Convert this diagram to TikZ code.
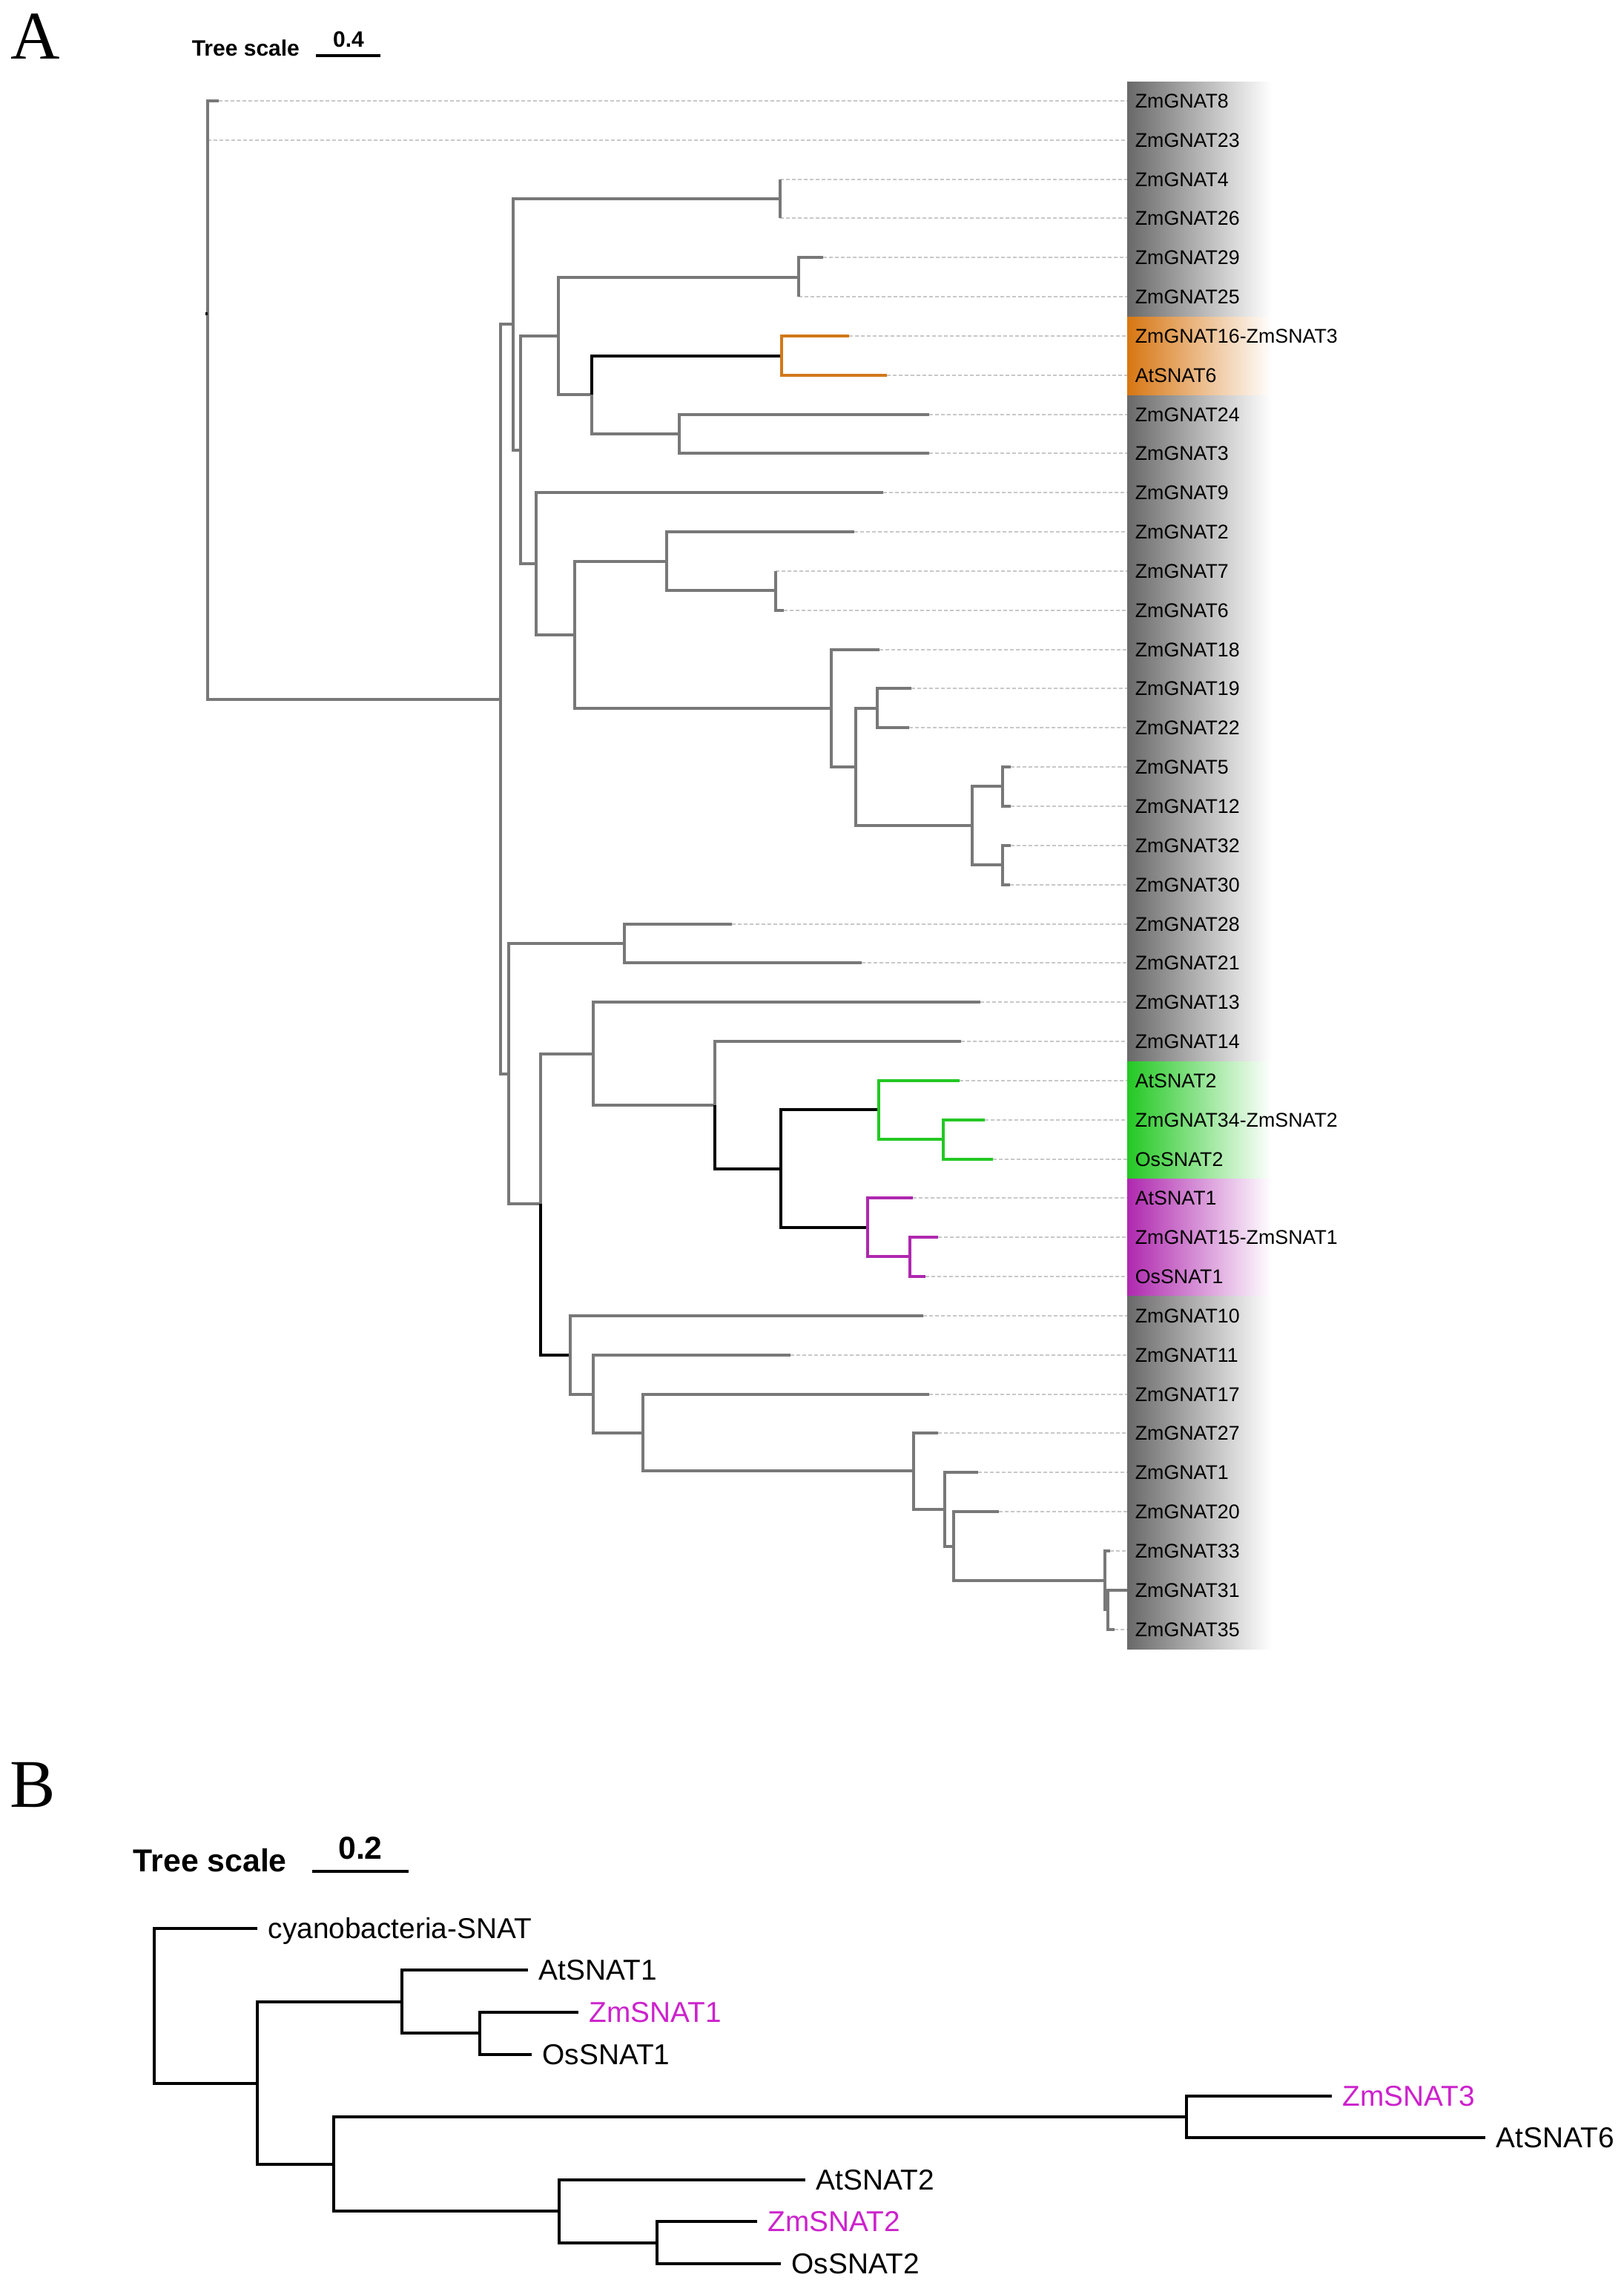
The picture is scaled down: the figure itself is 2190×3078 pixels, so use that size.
\documentclass[tikz,border=0pt]{standalone}
\usepackage{fontspec}
\setmainfont{Liberation Sans}
\newfontfamily\panelfont{Liberation Serif}
\definecolor{brgray}{RGB}{120,120,120}
\definecolor{leadgray}{RGB}{200,200,200}
\definecolor{stripgray}{RGB}{105,105,105}
\definecolor{orangeA}{RGB}{210,120,25}
\definecolor{orangeS}{RGB}{215,118,18}
\definecolor{greenA}{RGB}{35,200,35}
\definecolor{purpleA}{RGB}{175,40,175}
\definecolor{magentaB}{RGB}{204,34,204}

\begin{document}
\begin{tikzpicture}[x=0.25pt, y=-0.25pt,
  br/.style={draw=brgray, line width=0.8pt},
  brk/.style={draw=black, line width=0.8pt},
  bro/.style={draw=orangeA, line width=0.8pt},
  brg/.style={draw=greenA, line width=0.8pt},
  brp/.style={draw=purpleA, line width=0.8pt},
  lead/.style={draw=leadgray, line width=0.45pt, dash pattern=on 1.2pt off 0.8pt},
  leafA/.style={anchor=west, inner xsep=2.5pt, inner ysep=0pt, font=\fontsize{6.7}{8}\selectfont, text height=4.8pt, text depth=0pt},
  leafB/.style={anchor=west, inner xsep=3.5pt, inner ysep=0pt, font=\fontsize{9.7}{11}\selectfont, text height=6.9pt, text depth=0pt},
  brB/.style={draw=black, line width=1.1pt},
  panel/.style={anchor=base west, inner sep=0pt, font=\panelfont\fontsize{23}{26}\selectfont},
  scaleA/.style={inner sep=0pt, font=\bfseries\fontsize{7.5}{9}\selectfont},
  scaleB/.style={inner sep=0pt, font=\bfseries\fontsize{10.7}{12}\selectfont}]
\useasboundingbox (0,0) rectangle (2190,3078);

% panel A
\node[panel] (pA) at (14,79) {A};
\node[scaleA, anchor=base west] (tsA) at (258,75) {Tree scale};
\coordinate (sa1) at (426,75);
\coordinate (sa2) at (513,75);
\draw[line width=1.1pt] (sa1) -- (sa2);
\node[scaleA, anchor=base] (svA) at (470,63) {0.4};

\shade[left color=stripgray, right color=white] (1520,110) rectangle (1715,427);
\shade[left color=orangeS, right color=white] (1520,427) rectangle (1715,533);
\shade[left color=stripgray, right color=white] (1520,533) rectangle (1715,1431);
\shade[left color=greenA, right color=white] (1520,1431) rectangle (1715,1589);
\shade[left color=purpleA, right color=white] (1520,1589) rectangle (1715,1747);
\shade[left color=stripgray, right color=white] (1520,1747) rectangle (1715,2223);

\coordinate (t0) at (295,136);   \node[leafA] (l0) at (1520,136) {ZmGNAT8};
\coordinate (t1) at (280,189);   \node[leafA] (l1) at (1520,189) {ZmGNAT23};
\coordinate (t2) at (1052,242);  \node[leafA] (l2) at (1520,242) {ZmGNAT4};
\coordinate (t3) at (1052,294);  \node[leafA] (l3) at (1520,294) {ZmGNAT26};
\coordinate (t4) at (1110,347);  \node[leafA] (l4) at (1520,347) {ZmGNAT29};
\coordinate (t5) at (1077,400);  \node[leafA] (l5) at (1520,400) {ZmGNAT25};
\coordinate (t6) at (1145,453);  \node[leafA] (l6) at (1520,453) {ZmGNAT16-ZmSNAT3};
\coordinate (t7) at (1196,506);  \node[leafA] (l7) at (1520,506) {AtSNAT6};
\coordinate (t8) at (1253,559);  \node[leafA] (l8) at (1520,559) {ZmGNAT24};
\coordinate (t9) at (1253,611);  \node[leafA] (l9) at (1520,611) {ZmGNAT3};
\coordinate (t10) at (1191,664); \node[leafA] (l10) at (1520,664) {ZmGNAT9};
\coordinate (t11) at (1152,717); \node[leafA] (l11) at (1520,717) {ZmGNAT2};
\coordinate (t12) at (1046,770); \node[leafA] (l12) at (1520,770) {ZmGNAT7};
\coordinate (t13) at (1057,823); \node[leafA] (l13) at (1520,823) {ZmGNAT6};
\coordinate (t14) at (1186,876); \node[leafA] (l14) at (1520,876) {ZmGNAT18};
\coordinate (t15) at (1229,928); \node[leafA] (l15) at (1520,928) {ZmGNAT19};
\coordinate (t16) at (1226,981); \node[leafA] (l16) at (1520,981) {ZmGNAT22};
\coordinate (t17) at (1363,1034); \node[leafA] (l17) at (1520,1034) {ZmGNAT5};
\coordinate (t18) at (1363,1087); \node[leafA] (l18) at (1520,1087) {ZmGNAT12};
\coordinate (t19) at (1363,1140); \node[leafA] (l19) at (1520,1140) {ZmGNAT32};
\coordinate (t20) at (1362,1193); \node[leafA] (l20) at (1520,1193) {ZmGNAT30};
\coordinate (t21) at (987,1246);  \node[leafA] (l21) at (1520,1246) {ZmGNAT28};
\coordinate (t22) at (1162,1298); \node[leafA] (l22) at (1520,1298) {ZmGNAT21};
\coordinate (t23) at (1322,1351); \node[leafA] (l23) at (1520,1351) {ZmGNAT13};
\coordinate (t24) at (1296,1404); \node[leafA] (l24) at (1520,1404) {ZmGNAT14};
\coordinate (t25) at (1294,1457); \node[leafA] (l25) at (1520,1457) {AtSNAT2};
\coordinate (t26) at (1328,1510); \node[leafA] (l26) at (1520,1510) {ZmGNAT34-ZmSNAT2};
\coordinate (t27) at (1339,1563); \node[leafA] (l27) at (1520,1563) {OsSNAT2};
\coordinate (t28) at (1231,1615); \node[leafA] (l28) at (1520,1615) {AtSNAT1};
\coordinate (t29) at (1265,1668); \node[leafA] (l29) at (1520,1668) {ZmGNAT15-ZmSNAT1};
\coordinate (t30) at (1248,1721); \node[leafA] (l30) at (1520,1721) {OsSNAT1};
\coordinate (t31) at (1245,1774); \node[leafA] (l31) at (1520,1774) {ZmGNAT10};
\coordinate (t32) at (1066,1827); \node[leafA] (l32) at (1520,1827) {ZmGNAT11};
\coordinate (t33) at (1253,1880); \node[leafA] (l33) at (1520,1880) {ZmGNAT17};
\coordinate (t34) at (1265,1932); \node[leafA] (l34) at (1520,1932) {ZmGNAT27};
\coordinate (t35) at (1319,1985); \node[leafA] (l35) at (1520,1985) {ZmGNAT1};
\coordinate (t36) at (1347,2038); \node[leafA] (l36) at (1520,2038) {ZmGNAT20};
\coordinate (t37) at (1497,2091); \node[leafA] (l37) at (1520,2091) {ZmGNAT33};
\coordinate (t38) at (1520,2144); \node[leafA] (l38) at (1520,2144) {ZmGNAT31};
\coordinate (t39) at (1503,2197); \node[leafA] (l39) at (1520,2197) {ZmGNAT35};

\coordinate (rt) at (280,423);
\coordinate (n1) at (675,943);
\coordinate (p1) at (692,437);
\coordinate (p2) at (1052,268);
\coordinate (p3) at (702,607);
\coordinate (p4) at (753,453);
\coordinate (p5) at (1077,374);
\coordinate (p6) at (798,532);
\coordinate (p7) at (1054,480);
\coordinate (p8) at (916,585);
\coordinate (p9) at (723,760);
\coordinate (p10) at (775,856);
\coordinate (p11) at (899,757);
\coordinate (p12) at (1046,796);
\coordinate (p13) at (1121,955);
\coordinate (p14) at (1154,1034);
\coordinate (p15) at (1183,955);
\coordinate (p16) at (1311,1113);
\coordinate (p17) at (1352,1060);
\coordinate (p18) at (1352,1166);
\coordinate (n2) at (686,1448);
\coordinate (m1) at (842,1272);
\coordinate (m2) at (729,1623);
\coordinate (m3) at (800,1421);
\coordinate (m4) at (964,1490);
\coordinate (m5) at (1053,1576);
\coordinate (m6) at (1185,1496);
\coordinate (m7) at (1272,1536);
\coordinate (m8) at (1170,1655);
\coordinate (m9) at (1227,1694);
\coordinate (m10) at (769,1827);
\coordinate (m11) at (800,1880);
\coordinate (m12) at (867,1932);
\coordinate (m13) at (1232,1983);
\coordinate (m14) at (1274,2035);
\coordinate (m15) at (1286,2085);
\coordinate (m16) at (1490,2131);
\coordinate (m17) at (1494,2170);

\draw[lead] (t0) -- (l0);
\draw[lead] (t1) -- (l1);
\draw[lead] (t2) -- (l2);
\draw[lead] (t3) -- (l3);
\draw[lead] (t4) -- (l4);
\draw[lead] (t5) -- (l5);
\draw[lead] (t6) -- (l6);
\draw[lead] (t7) -- (l7);
\draw[lead] (t8) -- (l8);
\draw[lead] (t9) -- (l9);
\draw[lead] (t10) -- (l10);
\draw[lead] (t11) -- (l11);
\draw[lead] (t12) -- (l12);
\draw[lead] (t13) -- (l13);
\draw[lead] (t14) -- (l14);
\draw[lead] (t15) -- (l15);
\draw[lead] (t16) -- (l16);
\draw[lead] (t17) -- (l17);
\draw[lead] (t18) -- (l18);
\draw[lead] (t19) -- (l19);
\draw[lead] (t20) -- (l20);
\draw[lead] (t21) -- (l21);
\draw[lead] (t22) -- (l22);
\draw[lead] (t23) -- (l23);
\draw[lead] (t24) -- (l24);
\draw[lead] (t25) -- (l25);
\draw[lead] (t26) -- (l26);
\draw[lead] (t27) -- (l27);
\draw[lead] (t28) -- (l28);
\draw[lead] (t29) -- (l29);
\draw[lead] (t30) -- (l30);
\draw[lead] (t31) -- (l31);
\draw[lead] (t32) -- (l32);
\draw[lead] (t33) -- (l33);
\draw[lead] (t34) -- (l34);
\draw[lead] (t35) -- (l35);
\draw[lead] (t36) -- (l36);
\draw[lead] (t37) -- (l37);
\draw[lead] (t39) -- (l39);

\draw[br] (rt) |- (t0);
\draw[br] (rt) |- (t1);
\draw[br] (rt) |- (n1);
\draw[brk] (rt) -- ++(-3,0);
\draw[br] (n1) |- (p1);
\draw[br] (n1) |- (n2);
\draw[br] (p1) |- (p2);
\draw[br] (p1) |- (p3);
\draw[br] (p2) |- (t2);
\draw[br] (p2) |- (t3);
\draw[br] (p3) |- (p4);
\draw[br] (p3) |- (p9);
\draw[br] (p4) |- (p5);
\draw[br] (p4) |- (p6);
\draw[br] (p5) |- (t4);
\draw[br] (p5) |- (t5);
\draw[brk] (p6) |- (p7);
\draw[br] (p6) |- (p8);
\draw[bro] (p7) |- (t6);
\draw[bro] (p7) |- (t7);
\draw[br] (p8) |- (t8);
\draw[br] (p8) |- (t9);
\draw[br] (p9) |- (t10);
\draw[br] (p9) |- (p10);
\draw[br] (p10) |- (p11);
\draw[br] (p10) |- (p13);
\draw[br] (p11) |- (t11);
\draw[br] (p11) |- (p12);
\draw[br] (p12) |- (t12);
\draw[br] (p12) |- (t13);
\draw[br] (p13) |- (t14);
\draw[br] (p13) |- (p14);
\draw[br] (p14) |- (p15);
\draw[br] (p14) |- (p16);
\draw[br] (p15) |- (t15);
\draw[br] (p15) |- (t16);
\draw[br] (p16) |- (p17);
\draw[br] (p16) |- (p18);
\draw[br] (p17) |- (t17);
\draw[br] (p17) |- (t18);
\draw[br] (p18) |- (t19);
\draw[br] (p18) |- (t20);
\draw[br] (n2) |- (m1);
\draw[br] (n2) |- (m2);
\draw[br] (m1) |- (t21);
\draw[br] (m1) |- (t22);
\draw[br] (m2) |- (m3);
\draw[brk] (m2) |- (m10);
\draw[br] (m3) |- (t23);
\draw[br] (m3) |- (m4);
\draw[br] (m4) |- (t24);
\draw[brk] (m4) |- (m5);
\draw[brk] (m5) |- (m6);
\draw[brk] (m5) |- (m8);
\draw[brg] (m6) |- (t25);
\draw[brg] (m6) |- (m7);
\draw[brg] (m7) |- (t26);
\draw[brg] (m7) |- (t27);
\draw[brp] (m8) |- (t28);
\draw[brp] (m8) |- (m9);
\draw[brp] (m9) |- (t29);
\draw[brp] (m9) |- (t30);
\draw[br] (m10) |- (t31);
\draw[br] (m10) |- (m11);
\draw[br] (m11) |- (t32);
\draw[br] (m11) |- (m12);
\draw[br] (m12) |- (t33);
\draw[br] (m12) |- (m13);
\draw[br] (m13) |- (t34);
\draw[br] (m13) |- (m14);
\draw[br] (m14) |- (t35);
\draw[br] (m14) |- (m15);
\draw[br] (m15) |- (t36);
\draw[br] (m15) |- (m16);
\draw[br] (m16) |- (t37);
\draw[br] (m16) |- (m17);
\draw[br] (m17) |- (t38);
\draw[br] (m17) |- (t39);

% panel B
\node[panel] (pB) at (13,2436) {B};
\node[scaleB, anchor=base west] (tsB) at (179,2523) {Tree scale};
\coordinate (sb1) at (421,2523);
\coordinate (sb2) at (551,2523);
\draw[line width=1.2pt] (sb1) -- (sb2);
\node[scaleB, anchor=base] (svB) at (486,2506) {0.2};

\node[leafB] (lcy) at (347,2600) {cyanobacteria-SNAT};
\node[leafB] (lat1) at (712,2656) {AtSNAT1};
\node[leafB, text=magentaB] (lzm1) at (780,2713) {ZmSNAT1};
\node[leafB] (los1) at (717,2770) {OsSNAT1};
\node[leafB, text=magentaB] (lzm3) at (1796,2826) {ZmSNAT3};
\node[leafB] (lat6) at (2003,2882) {AtSNAT6};
\node[leafB] (lat2) at (1086,2939) {AtSNAT2};
\node[leafB, text=magentaB] (lzm2) at (1021,2995) {ZmSNAT2};
\node[leafB] (los2) at (1053,3052) {OsSNAT2};

\coordinate (b1) at (208,2704);
\coordinate (b2) at (347,2809);
\coordinate (b3) at (542,2699);
\coordinate (b4) at (647,2741);
\coordinate (b5) at (450,2918);
\coordinate (b6) at (1600,2854);
\coordinate (b7) at (754,2981);
\coordinate (b8) at (886,3024);

\draw[brB] (b1) |- (lcy.west);
\draw[brB] (b1) |- (b2);
\draw[brB] (b2) |- (b3);
\draw[brB] (b2) |- (b5);
\draw[brB] (b3) |- (lat1.west);
\draw[brB] (b3) |- (b4);
\draw[brB] (b4) |- (lzm1.west);
\draw[brB] (b4) |- (los1.west);
\draw[brB] (b5) |- (b6);
\draw[brB] (b5) |- (b7);
\draw[brB] (b6) |- (lzm3.west);
\draw[brB] (b6) |- (lat6.west);
\draw[brB] (b7) |- (lat2.west);
\draw[brB] (b7) |- (b8);
\draw[brB] (b8) |- (lzm2.west);
\draw[brB] (b8) |- (los2.west);
\end{tikzpicture}
\end{document}
